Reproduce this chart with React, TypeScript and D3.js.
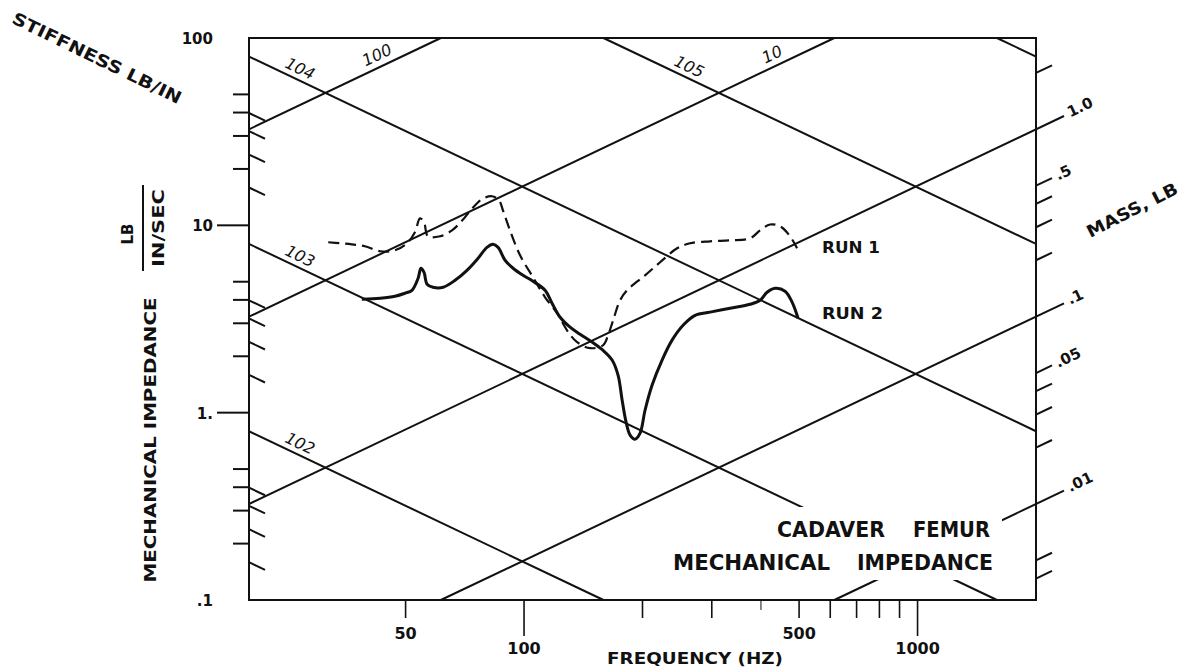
import React from "react";
import * as d3 from "d3";

// Frequency response of a cadaver femur, two runs, on an impedance chart
const run1Freq = [31.8, 34.1, 36.5, 39.4, 43.1, 47.0, 50.4, 52.8, 54.4, 55.7, 57.0, 61.2, 65.6, 69.6, 73.8, 78.2, 82.9, 86.4, 88.4, 92.1, 97.7, 105.4, 113.1, 121.3, 128.6, 136.4, 147.2, 158.8, 163.5, 168.4, 175.4, 182.7, 203, 221.7, 244.9, 264.2, 297, 333.9, 375.4, 398, 421.9, 447.3, 474.3, 494.1];
const run1Z = [8.12, 8.02, 7.92, 7.73, 7.27, 7.36, 8.02, 9.18, 10.9, 10.4, 8.74, 8.74, 9.4, 10.6, 12.3, 13.8, 14.3, 13.6, 12.0, 9.4, 6.92, 5.28, 4.13, 3.4, 2.75, 2.38, 2.21, 2.29, 2.59, 3.11, 3.98, 4.5, 5.41, 6.35, 7.54, 8.02, 8.22, 8.32, 8.52, 9.4, 10.1, 9.88, 8.74, 7.54];

const run2Freq = [38.7, 43.1, 47.0, 49.8, 51.9, 53.8, 54.7, 55.7, 56.7, 58.7, 62.3, 66.8, 71.6, 76.4, 80.5, 83.4, 85.9, 89.5, 93.8, 99.4, 105.4, 113.1, 117.8, 123.5, 130.9, 138.8, 148.9, 158.8, 167.4, 173.4, 177.5, 181.7, 186.0, 191.5, 197.2, 203.0, 211.5, 224.3, 237.8, 253.6, 272.1, 297.0, 333.9, 375.4, 398.0, 414.6, 434.5, 460.6, 479.9, 497.0];
const run2Z = [4.03, 4.08, 4.18, 4.34, 4.5, 5.22, 5.9, 5.61, 4.85, 4.67, 4.67, 5.09, 5.75, 6.67, 7.63, 7.92, 7.63, 6.51, 5.9, 5.41, 5.03, 4.5, 3.84, 3.23, 2.86, 2.62, 2.38, 2.15, 1.91, 1.58, 1.17, 0.89, 0.759, 0.722, 0.777, 1.03, 1.4, 1.91, 2.44, 2.93, 3.31, 3.44, 3.61, 3.79, 3.98, 4.39, 4.61, 4.45, 3.89, 3.19];

// Axis ticks
const freqLabelTicks = [50, 100, 500, 1000];
const freqLabels = ["50", "100", "500", "1000"];
const freqMinorTicks = [200, 300, 400, 600, 700, 800, 900];
const impedanceLabelValues = [100, 10, 1, 0.1];
const impedanceLabels = ["100", "10", "1.", ".1"];
const impedanceMajorTicks = [10, 1];
const impedanceMinorTicks = [0.2, 0.3, 0.4, 0.5, 2, 3, 4, 5, 20, 30, 40, 50];

// Constant-stiffness lines (lb/in) and constant-mass lines (lb)
const stiffnessValues = [1e2, 1e3, 1e4, 1e5, 1e6];
const stiffnessLabels = ["102", "103", "104", "105", ""];
const stiffnessMinorTicks = [20, 30, 40, 50, 200, 300, 400, 500, 2000, 3000, 4000, 5000];
const massValues = [0.01, 0.1, 1, 10, 100];
const massLabels = [".01", ".1", "1.0", "10", "100"];
const massMinorTicks = [0.004, 0.005, 0.02, 0.03, 0.04, 0.05, 0.2, 0.3, 0.4, 0.5, 2];
const massMinorLabels = ["", "", "", "", "", ".05", "", "", "", ".5", ""];

const W = 1186;
const H = 672;
const G = 386.1; // in/s^2
const F0 = 20, F1 = 2000, Z0 = 0.1, Z1 = 100;
const X0 = 249, X1 = 1036, Y0 = 600, Y1 = 38;

const x = d3.scaleLog().domain([F0, F1]).range([X0, X1]);
const y = d3.scaleLog().domain([Z0, Z1]).range([Y0, Y1]);

const stiffZ = (k: number, f: number) => k / (2 * Math.PI * f);
const massZ = (m: number, f: number) => (2 * Math.PI * f * m) / G;

const ANGLE = (Math.atan((Y0 - Y1) / 3 / ((X1 - X0) / 2)) * 180) / Math.PI;
const INK = "#111";

function stiffSegment(k: number): [number, number][] {
  const fa = Math.max(F0, k / (2 * Math.PI * Z1));
  const fb = Math.min(F1, k / (2 * Math.PI * Z0));
  if (fa >= fb) return [];
  return [[fa, stiffZ(k, fa)], [fb, stiffZ(k, fb)]];
}

function massSegment(m: number, fMax: number): [number, number][] {
  const fa = Math.max(F0, (Z0 * G) / (2 * Math.PI * m));
  const fb = Math.min(fMax, (Z1 * G) / (2 * Math.PI * m));
  if (fa >= fb) return [];
  return [[fa, massZ(m, fa)], [fb, massZ(m, fb)]];
}

const segPath = (pts: [number, number][]) =>
  pts.length ? `M${x(pts[0][0])},${y(pts[0][1])}L${x(pts[1][0])},${y(pts[1][1])}` : "";

export default function App() {
  const curve = d3
    .line<[number, number]>()
    .x((d) => x(d[0]))
    .y((d) => y(d[1]))
    .curve(d3.curveCatmullRom.alpha(0.5));
  const run1 = run1Freq.map((f, i) => [f, run1Z[i]] as [number, number]);
  const run2 = run2Freq.map((f, i) => [f, run2Z[i]] as [number, number]);

  const fOutside = x.invert(1064);
  const tickDx = 16;
  const tickDy = tickDx * Math.tan((ANGLE * Math.PI) / 180);

  // label anchor frequencies for labels drawn inside the frame
  const stiffLabelF = [24.1, 24.1, 24.1, 235, 0];
  const massLabelF = [0, 0, 0, 440, 43.6];

  return (
    <svg
      width={W}
      height={H}
      style={{ position: "absolute", left: 0, top: 0, background: "#fff" }}
      fontFamily="'DejaVu Sans', sans-serif"
    >
      <rect x={0} y={0} width={W} height={H} fill="#fff" />

      {/* constant stiffness lines */}
      {stiffnessValues.map((k) => (
        <path key={"k" + k} d={segPath(stiffSegment(k))} stroke={INK} strokeWidth={2} fill="none" />
      ))}
      {/* constant mass lines; labelled ones run past the right edge */}
      {massValues.map((m, i) => (
        <path
          key={"m" + m}
          d={segPath(massSegment(m, i < 3 ? fOutside : F1))}
          stroke={INK}
          strokeWidth={2}
          fill="none"
        />
      ))}

      {/* stiffness ticks on the left edge */}
      {stiffnessMinorTicks.map((k) => {
        const py = y(stiffZ(k, F0));
        return <line key={"st" + k} x1={X0} y1={py} x2={X0 + tickDx} y2={py + tickDy} stroke={INK} strokeWidth={2} />;
      })}
      {/* mass ticks on the right edge */}
      {massMinorTicks.map((m, i) => {
        const py = y(massZ(m, F1));
        return (
          <g key={"mt" + m}>
            <line x1={X1} y1={py} x2={X1 + tickDx} y2={py - tickDy} stroke={INK} strokeWidth={2} />
            {massMinorLabels[i] && (
              <text
                transform={`translate(${X1 + tickDx + 4},${py - tickDy - 2}) rotate(${-ANGLE})`}
                fontSize={15}
                fontWeight="bold"
                fill={INK}
                dominantBaseline="central"
              >
                {massMinorLabels[i]}
              </text>
            )}
          </g>
        );
      })}

      {/* measured curves */}
      <path d={curve(run1) || ""} stroke={INK} strokeWidth={2.2} fill="none" strokeDasharray="11,6" />
      <path d={curve(run2) || ""} stroke={INK} strokeWidth={3} fill="none" strokeLinejoin="round" />

      {/* title with knocked-out background */}
      <rect x={768} y={507} width={234} height={39} fill="#fff" />
      <rect x={664} y={546} width={338} height={34} fill="#fff" />
      <g fontWeight="bold" fontSize={22} fill={INK}>
        <text x={777} y={537} textLength={108} lengthAdjust="spacingAndGlyphs">CADAVER</text>
        <text x={913} y={537} textLength={77} lengthAdjust="spacingAndGlyphs">FEMUR</text>
        <text x={673} y={570} textLength={157} lengthAdjust="spacingAndGlyphs">MECHANICAL</text>
        <text x={857} y={570} textLength={136} lengthAdjust="spacingAndGlyphs">IMPEDANCE</text>
      </g>

      {/* frame */}
      <rect x={X0} y={Y1} width={X1 - X0} height={Y0 - Y1} fill="none" stroke={INK} strokeWidth={2} />

      {/* frequency axis */}
      {freqLabelTicks.map((f, i) => {
        const long = f === 100 || f === 1000;
        return (
          <g key={"fx" + f}>
            <line x1={x(f)} y1={Y0} x2={x(f)} y2={Y0 + (long ? 36 : 18)} stroke={INK} strokeWidth={1.6} />
            <text
              x={x(f)}
              y={long ? 648 : 633}
              fontSize={16}
              fontWeight="bold"
              textAnchor="middle"
              dominantBaseline="central"
              fill={INK}
            >
              {freqLabels[i]}
            </text>
          </g>
        );
      })}
      {freqMinorTicks.map((f) => (
        <line
          key={"fm" + f}
          x1={x(f)}
          y1={Y0}
          x2={x(f)}
          y2={Y0 + (f === 400 ? 10 : 18)}
          stroke={INK}
          strokeWidth={f === 400 ? 1 : 1.6}
        />
      ))}
      <text x={607} y={664} fontSize={15} fontWeight="bold" fill={INK} textLength={176} lengthAdjust="spacingAndGlyphs">
        FREQUENCY  (HZ)
      </text>

      {/* impedance axis */}
      {impedanceMajorTicks.map((v) => (
        <line key={"zM" + v} x1={217} y1={y(v)} x2={X0} y2={y(v)} stroke={INK} strokeWidth={2} />
      ))}
      {impedanceMinorTicks.map((v) => (
        <line key={"zm" + v} x1={233} y1={y(v)} x2={X0} y2={y(v)} stroke={INK} strokeWidth={2} />
      ))}
      {impedanceLabelValues.map((v, i) => (
        <text
          key={"zl" + v}
          x={213}
          y={y(v) + 1}
          fontSize={15}
          fontWeight="bold"
          textAnchor="end"
          dominantBaseline="central"
          fill={INK}
        >
          {impedanceLabels[i]}
        </text>
      ))}
      <text
        transform="translate(150,440) rotate(-90)"
        fontSize={16}
        fontWeight="bold"
        textAnchor="middle"
        dominantBaseline="central"
        fill={INK}
        textLength={285}
        lengthAdjust="spacingAndGlyphs"
      >
        MECHANICAL   IMPEDANCE
      </text>
      <text transform="translate(128,234) rotate(-90)" fontSize={15} fontWeight="bold" textAnchor="middle" dominantBaseline="central" fill={INK}>
        LB
      </text>
      <line x1={143} y1={185} x2={143} y2={271} stroke={INK} strokeWidth={2} />
      <text
        transform="translate(159,228) rotate(-90)"
        fontSize={15}
        fontWeight="bold"
        textAnchor="middle"
        dominantBaseline="central"
        fill={INK}
        textLength={78}
        lengthAdjust="spacingAndGlyphs"
      >
        IN/SEC
      </text>

      {/* line labels inside the frame */}
      {stiffnessValues.map((k, i) =>
        stiffnessLabels[i] ? (
          <text
            key={"kl" + k}
            transform={`translate(${x(stiffLabelF[i])},${y(stiffZ(k, stiffLabelF[i]))}) rotate(${ANGLE}) translate(16,-11)`}
            fontSize={16}
            fontStyle="italic"
            textAnchor="middle"
            dominantBaseline="central"
            fill={INK}
          >
            {stiffnessLabels[i]}
          </text>
        ) : null
      )}
      {massValues.map((m, i) => {
        if (i >= 3) {
          const f = massLabelF[i];
          return (
            <text
              key={"ml" + m}
              transform={`translate(${x(f)},${y(massZ(m, f))}) rotate(${-ANGLE}) translate(0,-12)`}
              fontSize={16}
              fontStyle="italic"
              textAnchor="middle"
              dominantBaseline="central"
              fill={INK}
            >
              {massLabels[i]}
            </text>
          );
        }
        return (
          <text
            key={"ml" + m}
            transform={`translate(${x(fOutside) + 4},${y(massZ(m, fOutside)) - 3}) rotate(${-ANGLE})`}
            fontSize={15}
            fontWeight="bold"
            dominantBaseline="central"
            fill={INK}
          >
            {massLabels[i]}
          </text>
        );
      })}

      {/* run labels */}
      <text x={822} y={253} fontSize={15} fontWeight="bold" fill={INK} textLength={58} lengthAdjust="spacingAndGlyphs">RUN  1</text>
      <text x={822} y={319} fontSize={15} fontWeight="bold" fill={INK} textLength={61} lengthAdjust="spacingAndGlyphs">RUN  2</text>

      {/* scale names */}
      <text
        transform="translate(97,58) rotate(26)"
        fontSize={17}
        fontWeight="bold"
        textAnchor="middle"
        dominantBaseline="central"
        fill={INK}
        textLength={186}
        lengthAdjust="spacingAndGlyphs"
      >
        STIFFNESS   LB/IN
      </text>
      <text
        transform="translate(1132,210) rotate(-27)"
        fontSize={17}
        fontWeight="bold"
        textAnchor="middle"
        dominantBaseline="central"
        fill={INK}
        textLength={100}
        lengthAdjust="spacingAndGlyphs"
      >
        MASS,  LB
      </text>
    </svg>
  );
}
